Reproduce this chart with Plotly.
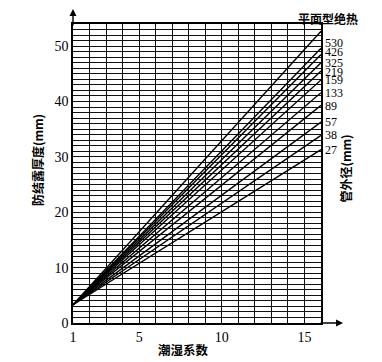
import plotly.graph_objects as go

# Data
x_start = 1
x_end = 16
y_start = 3.3
series_names = ["平面型绝热", "530", "426", "325", "219", "159", "133", "89", "57", "38", "27"]
end_values = [52.7, 49.6, 48.5, 47.0, 45.5, 43.9, 41.6, 39.3, 36.3, 33.9, 31.3]
y_ticks = [0, 10, 20, 30, 40, 50]
x_ticks = [1, 5, 10, 15]

# label nudges in pixels (layout only)
label_shift_px = [5, 2, 0, -1, 0, 0, -1, 0, 0, 0]

serif = "Liberation Serif, Times New Roman, serif"
cjk = "Noto Sans CJK SC, sans-serif"

fig = go.Figure()
for name, v in zip(series_names, end_values):
    fig.add_trace(go.Scatter(x=[x_start, x_end], y=[y_start, v], mode="lines",
                             line=dict(color="black", width=1.4), name=name,
                             showlegend=False, hoverinfo="skip"))

# Line labels (pipe diameters) at right end
for name, v, s in zip(series_names[1:], end_values[1:], label_shift_px):
    fig.add_annotation(x=x_end, y=v, xref="x", yref="y", text=name, showarrow=False,
                       xanchor="left", yanchor="middle", xshift=2, yshift=s,
                       font=dict(family=serif, size=12, color="black"))

# Title of the top line
fig.add_annotation(x=1.028, y=1.02, xref="paper", yref="paper", text="<b>平面型绝热</b>",
                   showarrow=False, xanchor="center", yanchor="middle",
                   font=dict(family=cjk, size=12, color="black"))

# Axis titles
fig.add_annotation(x=-0.145, y=0.545, xref="paper", yref="paper", text="<b>防结露厚度(mm)</b>",
                   showarrow=False, textangle=-90, xanchor="center", yanchor="middle",
                   font=dict(family=cjk, size=12, color="black"))
fig.add_annotation(x=1.095, y=0.515, xref="paper", yref="paper", text="<b>管外径(mm)</b>",
                   showarrow=False, textangle=-90, xanchor="center", yanchor="middle",
                   font=dict(family=cjk, size=12, color="black"))
fig.add_annotation(x=0.444, y=-0.09, xref="paper", yref="paper", text="<b>潮湿系数</b>",
                   showarrow=False, xanchor="center", yanchor="middle",
                   font=dict(family=cjk, size=12.5, color="black"))

# Axis arrows
fig.add_annotation(x=1.089, y=0, xref="paper", yref="paper", ax=-24, ay=0, text="",
                   showarrow=True, arrowhead=2, arrowsize=1, arrowwidth=1.4, arrowcolor="black")
fig.add_annotation(x=0, y=1.05, xref="paper", yref="paper", ax=0, ay=18, text="",
                   showarrow=True, arrowhead=2, arrowsize=1, arrowwidth=1.4, arrowcolor="black")

fig.update_xaxes(range=[x_start, x_end], tickvals=x_ticks, showgrid=True, gridcolor="#111",
                 gridwidth=1, showline=True, linecolor="black", linewidth=1.5,
                 mirror=True, zeroline=False, ticks="",
                 tickfont=dict(family=serif, size=14, color="black"),
                 minor=dict(dtick=1, tick0=1, showgrid=True, gridcolor="#111", gridwidth=1))
fig.update_yaxes(range=[0, 54], tickvals=y_ticks, showgrid=True, gridcolor="#111",
                 gridwidth=1, showline=True, linecolor="black", linewidth=1.5,
                 mirror=True, zeroline=False, ticks="",
                 tickfont=dict(family=serif, size=14, color="black"),
                 minor=dict(dtick=1, tick0=0, showgrid=True, gridcolor="#111", gridwidth=1))

fig.update_layout(width=374, height=354, margin=dict(l=65, r=61, t=16, b=39),
                  plot_bgcolor="white", paper_bgcolor="white")

fig.write_html("out.html")
